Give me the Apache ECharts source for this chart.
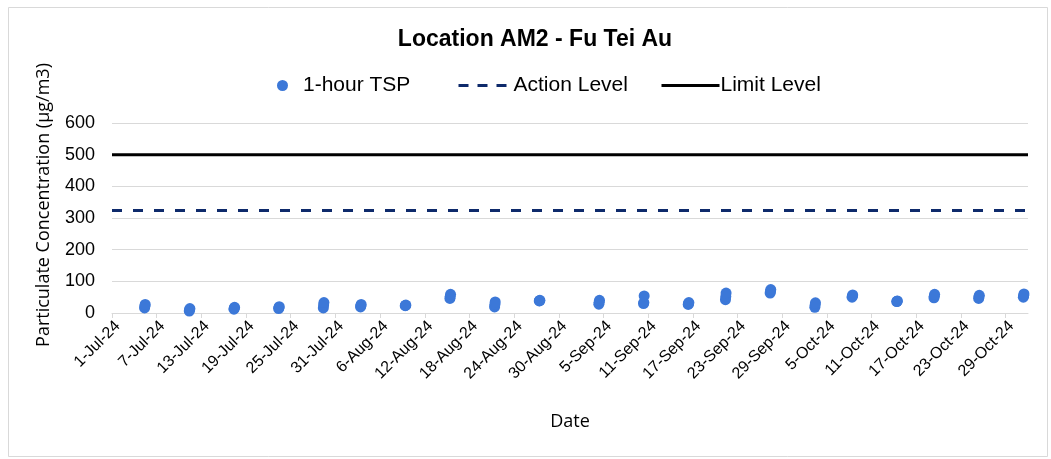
<!DOCTYPE html>
<html>
<head>
<meta charset="utf-8">
<script src="https://cdn.jsdelivr.net/npm/echarts@6/dist/echarts.min.js"></script>
<style>
html,body{margin:0;padding:0;background:#fff;}
#chart{width:1051px;height:459px;}
</style>
</head>
<body>
<div id="chart"></div>
<script>
// ---- data ----
const axisStart = '2024-07-01';
const axisEnd = '2024-11-01';
const sampleDates = ['2024-07-05','2024-07-11','2024-07-17','2024-07-23','2024-07-29',
  '2024-08-03','2024-08-09','2024-08-15','2024-08-21','2024-08-27',
  '2024-09-04','2024-09-10','2024-09-16','2024-09-21','2024-09-27',
  '2024-10-03','2024-10-08','2024-10-14','2024-10-19','2024-10-25','2024-10-31'];
const sampleHours = [9, 10, 11];
const tspValues = [
  [16,22,27],[6,10,14],[12,15,18],[14,17,20],[16,25,33],
  [19,23,27],[23,24,25],[46,52,59],[19,27,35],[38,39,40],
  [28,34,40],[30,33,54],[27,30,33],[42,52,63],[63,68,74],
  [18,25,32],[50,53,57],[36,37,38],[48,53,59],[46,51,56],[50,55,60]];
const actionLevel = 324;
const limitLevel = 500;
const monthNames = ['Jan','Feb','Mar','Apr','May','Jun','Jul','Aug','Sep','Oct','Nov','Dec'];

// ---- build ----
const DAY = 86400000;
const t0 = Date.parse(axisStart + 'T00:00:00Z');
const toDay = (s) => (Date.parse(s + 'T00:00:00Z') - t0) / DAY;
const xMin = 0, xMax = toDay(axisEnd);
const tspData = [];
sampleDates.forEach((d, i) => {
  tspValues[i].forEach((v, j) => {
    tspData.push([toDay(d) + sampleHours[j] / 24, v]);
  });
});
const fmtDate = (v) => {
  const d = new Date(t0 + Math.round(v) * DAY);
  return d.getUTCDate() + '-' + monthNames[d.getUTCMonth()] + '-' + String(d.getUTCFullYear()).slice(2);
};

const chart = echarts.init(document.getElementById('chart'));
const font = 'Liberation Sans, Arial, sans-serif';
const legendText = { fontFamily: font, fontSize: 21, color: '#000' };
chart.setOption({
  animation: false,
  backgroundColor: '#fff',
  graphic: [{
    type: 'rect', left: 6, top: 5,
    shape: { width: 1039, height: 449 },
    style: { fill: 'none', stroke: '#d9d9d9', lineWidth: 1 }, silent: true
  }, {
    type: 'text', x: 44, y: 205, rotation: Math.PI / 2, silent: true,
    style: { text: 'Particulate Concentration (μg/m3)', align: 'center', verticalAlign: 'middle',
      font: '18px "Open Sans", sans-serif', fill: '#000' }
  }],
  title: {
    text: 'Location AM2 - Fu Tei Au', left: 530, textAlign: 'center', top: 23,
    textStyle: { fontFamily: font, fontSize: 23, fontWeight: 'bold', color: '#000' }
  },
  legend: [
    { data: ['1-hour TSP'], left: 272, top: 70, itemWidth: 11, itemHeight: 11,
      textStyle: Object.assign({ padding: [0,0,0,10] }, legendText) },
    { data: ['Action Level'], left: 452, top: 70, itemWidth: 56, itemHeight: 12,
      itemStyle: { opacity: 0 },
      lineStyle: { width: 3, type: [10, 9], color: '#0e2a6b' },
      textStyle: Object.assign({ padding: [0,0,0,-6] }, legendText) },
    { data: ['Limit Level'], left: 655, top: 70, itemWidth: 58, itemHeight: 12,
      itemStyle: { opacity: 0 },
      lineStyle: { width: 3, color: '#000' },
      textStyle: Object.assign({ padding: [0,0,0,-4] }, legendText) }
  ],
  grid: { left: 112, right: 23, top: 123, bottom: 146, containLabel: false },
  xAxis: {
    type: 'value', min: xMin, max: xMax, interval: 6,
    name: 'Date', nameLocation: 'middle', nameGap: 100,
    nameTextStyle: { fontFamily: 'Open Sans, sans-serif', fontSize: 18, color: '#000' },
    axisLine: { show: true, lineStyle: { color: '#d9d9d9', width: 1 } },
    axisTick: { show: true, length: 5, lineStyle: { color: '#d9d9d9' } },
    splitLine: { show: false },
    axisLabel: { rotate: 45, margin: 5, verticalAlign: 'top', formatter: fmtDate, showMaxLabel: false,
      fontFamily: font, fontSize: 16, color: '#000' }
  },
  yAxis: {
    type: 'value', min: 0, max: 600, interval: 100,
    axisLine: { show: false }, axisTick: { show: false },
    splitLine: { lineStyle: { color: '#d9d9d9', width: 1 } },
    axisLabel: { margin: 17, fontFamily: font, fontSize: 18, color: '#000' }
  },
  series: [
    { name: '1-hour TSP', type: 'scatter', data: tspData, symbol: 'circle', symbolSize: 11,
      itemStyle: { color: '#3c78d8', opacity: 1 }, z: 5 },
    { name: 'Action Level', type: 'line', data: [[xMin, actionLevel], [xMax, actionLevel]],
      symbol: 'none', lineStyle: { color: '#0e2a6b', width: 3, type: [10, 11] },
      itemStyle: { color: '#0e2a6b' } },
    { name: 'Limit Level', type: 'line', data: [[xMin, limitLevel], [xMax, limitLevel]],
      symbol: 'none', lineStyle: { color: '#000', width: 3, type: 'solid' },
      itemStyle: { color: '#000' } }
  ]
});
</script>
</body>
</html>
